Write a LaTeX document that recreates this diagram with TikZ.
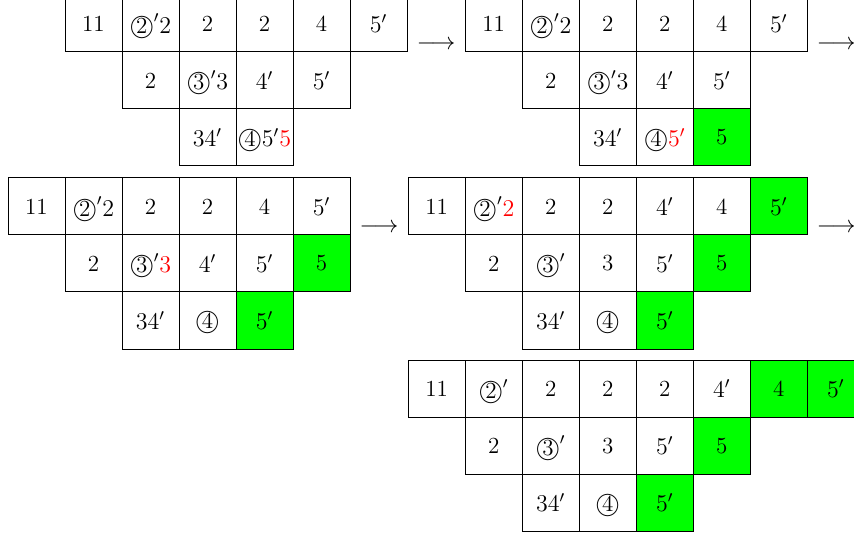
\documentclass[tikz,border=0pt]{standalone}
\definecolor{fullgreen}{RGB}{0,255,0}
\newcommand{\cn}[1]{\mbox{\ooalign{$\bigcirc$\cr\hidewidth#1\hidewidth\cr}}}

\begin{document}
\begin{tikzpicture}[every node/.style={font=\fontsize{11.5pt}{14pt}\selectfont}, cell/.style={draw, minimum width=1cm, minimum height=1cm, inner sep=0pt}, found/.style={cell, fill=fullgreen}]
\useasboundingbox (0,0) rectangle (14.98,-9.44);
\clip (0,0) rectangle (14.98,-9.44);

\node[cell] (a11) at (1.64,-0.41) {11};
\node[cell] (a12) at (2.64,-0.41) {$\cn{2}'2$};
\node[cell] (a13) at (3.64,-0.41) {2};
\node[cell] (a14) at (4.64,-0.41) {2};
\node[cell] (a15) at (5.64,-0.41) {4};
\node[cell] (a16) at (6.64,-0.41) {$5'$};
\node[cell] (a21) at (2.64,-1.41) {2};
\node[cell] (a22) at (3.64,-1.41) {$\cn{3}'3$};
\node[cell] (a23) at (4.64,-1.41) {$4'$};
\node[cell] (a24) at (5.64,-1.41) {$5'$};
\node[cell] (a31) at (3.64,-2.41) {$34'$};
\node[cell] (a32) at (4.64,-2.41) {$\cn{4}5'\textcolor{red}{5}$};

\node (arr1) at (7.65,-0.79) {$\longrightarrow$};

\node[cell] (b11) at (8.66,-0.41) {11};
\node[cell] (b12) at (9.66,-0.41) {$\cn{2}'2$};
\node[cell] (b13) at (10.66,-0.41) {2};
\node[cell] (b14) at (11.66,-0.41) {2};
\node[cell] (b15) at (12.66,-0.41) {4};
\node[cell] (b16) at (13.66,-0.41) {$5'$};
\node[cell] (b21) at (9.66,-1.41) {2};
\node[cell] (b22) at (10.66,-1.41) {$\cn{3}'3$};
\node[cell] (b23) at (11.66,-1.41) {$4'$};
\node[cell] (b24) at (12.66,-1.41) {$5'$};
\node[cell] (b31) at (10.66,-2.41) {$34'$};
\node[cell] (b32) at (11.66,-2.41) {$\cn{4}\textcolor{red}{5'}$};
\node[found] (b33) at (12.66,-2.41) {5};

\node (arr2) at (14.67,-0.79) {$\longrightarrow$};

\node[cell] (c11) at (0.64,-3.62) {11};
\node[cell] (c12) at (1.64,-3.62) {$\cn{2}'2$};
\node[cell] (c13) at (2.64,-3.62) {2};
\node[cell] (c14) at (3.64,-3.62) {2};
\node[cell] (c15) at (4.64,-3.62) {4};
\node[cell] (c16) at (5.64,-3.62) {$5'$};
\node[cell] (c21) at (1.64,-4.62) {2};
\node[cell] (c22) at (2.64,-4.62) {$\cn{3}'\textcolor{red}{3}$};
\node[cell] (c23) at (3.64,-4.62) {$4'$};
\node[cell] (c24) at (4.64,-4.62) {$5'$};
\node[found] (c25) at (5.64,-4.62) {5};
\node[cell] (c31) at (2.64,-5.62) {$34'$};
\node[cell] (c32) at (3.64,-5.62) {\cn{4}};
\node[found] (c33) at (4.64,-5.62) {$5'$};

\node (arr3) at (6.65,-4.0) {$\longrightarrow$};

\node[cell] (d11) at (7.66,-3.62) {11};
\node[cell] (d12) at (8.66,-3.62) {$\cn{2}'\textcolor{red}{2}$};
\node[cell] (d13) at (9.66,-3.62) {2};
\node[cell] (d14) at (10.66,-3.62) {2};
\node[cell] (d15) at (11.66,-3.62) {$4'$};
\node[cell] (d16) at (12.66,-3.62) {4};
\node[found] (d17) at (13.66,-3.62) {$5'$};
\node[cell] (d21) at (8.66,-4.62) {2};
\node[cell] (d22) at (9.66,-4.62) {$\cn{3}'$};
\node[cell] (d23) at (10.66,-4.62) {3};
\node[cell] (d24) at (11.66,-4.62) {$5'$};
\node[found] (d25) at (12.66,-4.62) {5};
\node[cell] (d31) at (9.66,-5.62) {$34'$};
\node[cell] (d32) at (10.66,-5.62) {\cn{4}};
\node[found] (d33) at (11.66,-5.62) {$5'$};

\node (arr4) at (14.67,-4.0) {$\longrightarrow$};

\node[cell] (e11) at (7.66,-6.82) {11};
\node[cell] (e12) at (8.66,-6.82) {$\cn{2}'$};
\node[cell] (e13) at (9.66,-6.82) {2};
\node[cell] (e14) at (10.66,-6.82) {2};
\node[cell] (e15) at (11.66,-6.82) {2};
\node[cell] (e16) at (12.66,-6.82) {$4'$};
\node[found] (e17) at (13.66,-6.82) {4};
\node[found] (e18) at (14.66,-6.82) {$5'$};
\node[cell] (e21) at (8.66,-7.82) {2};
\node[cell] (e22) at (9.66,-7.82) {$\cn{3}'$};
\node[cell] (e23) at (10.66,-7.82) {3};
\node[cell] (e24) at (11.66,-7.82) {$5'$};
\node[found] (e25) at (12.66,-7.82) {5};
\node[cell] (e31) at (9.66,-8.82) {$34'$};
\node[cell] (e32) at (10.66,-8.82) {\cn{4}};
\node[found] (e33) at (11.66,-8.82) {$5'$};
\end{tikzpicture}
\end{document}
